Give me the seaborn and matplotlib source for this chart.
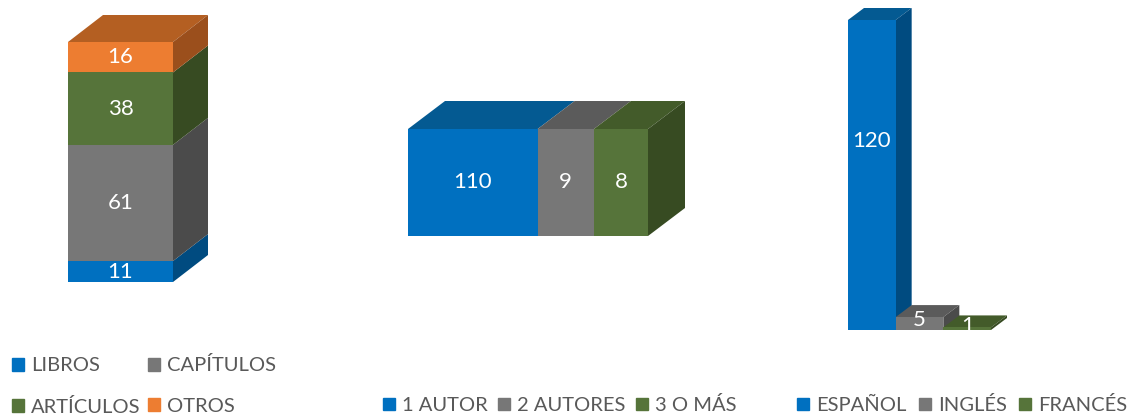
import numpy as np
import seaborn as sns
import matplotlib.pyplot as plt
from matplotlib.patches import Polygon, Patch
from matplotlib.transforms import IdentityTransform

# datos
tipos = ["LIBROS", "CAPÍTULOS", "ARTÍCULOS", "OTROS"]
tipos_val = [11, 61, 38, 16]
autores = ["1 AUTOR", "2 AUTORES", "3 O MÁS"]
autores_val = [110, 9, 8]
idiomas = ["ESPAÑOL", "INGLÉS", "FRANCÉS"]
idiomas_val = [120, 5, 1]

# colores: frente, tapa, lado
blue = ("#0070C0", "#045A92", "#004B80")
grey = ("#777777", "#5B5B5B", "#4B4B4B")
green = ("#56743A", "#435B2A", "#374B22")
orange = ("#ED7D31", "#B45F22", "#9B4F1C")

sns.set_style("white")
plt.rcParams["font.family"] = ["Lato", "DejaVu Sans"]

W, H = 1129, 418
fig = plt.figure(figsize=(W / 100, H / 100), dpi=100)


def rect(l, t, r, b):
    return [l / W, 1 - b / H, (r - l) / W, (b - t) / H]


def faces(ax, x0, y0, x1, y1, dx, dy, cols, top=True, side=True, z=1):
    (a, b), (c, d) = ax.transData.transform([(x0, y0), (x1, y1)])
    l, r = min(a, c), max(a, c)
    lo, hi = min(b, d), max(b, d)
    if top:
        pts = [(l, hi), (r, hi), (r + dx, hi + dy), (l + dx, hi + dy)]
        ax.add_patch(Polygon(pts, closed=True, facecolor=cols[1], edgecolor="none",
                             transform=IdentityTransform(), clip_on=False, zorder=z))
    if side:
        pts = [(r, lo), (r, hi), (r + dx, hi + dy), (r + dx, lo + dy)]
        ax.add_patch(Polygon(pts, closed=True, facecolor=cols[2], edgecolor="none",
                             transform=IdentityTransform(), clip_on=False, zorder=z))


label_kw = dict(ha="center", va="center", color="white", fontsize=16)
bar_kw = dict(saturation=1, width=1, linewidth=0, edgecolor="none")

# panel 1: tipo de publicación (apilado vertical)
ax1 = fig.add_axes(rect(68, 42, 173, 282))
c1 = [blue, grey, green, orange]
cum1 = np.cumsum(tipos_val)
for i in reversed(range(len(tipos))):
    sns.barplot(x=["PUB"], y=[cum1[i]], color=c1[i][0], ax=ax1, zorder=2, **bar_kw)
ax1.set_xlim(-0.5, 0.5)
ax1.set_ylim(0, cum1[-1])
ax1.axis("off")
for i in range(len(tipos)):
    y0 = cum1[i] - tipos_val[i]
    faces(ax1, -0.5, y0, 0.5, cum1[i], 35, 27, c1[i],
          top=(i == len(tipos) - 1), side=True)
    ax1.text(0, y0 + tipos_val[i] / 2, str(tipos_val[i]), zorder=5, **label_kw)

# panel 2: número de autores (apilado horizontal)
ax2 = fig.add_axes(rect(408, 129, 648, 236))
c2 = [blue, grey, green]
disp2 = np.cbrt(autores_val)
cum2 = np.cumsum(disp2)
for i in reversed(range(len(autores))):
    sns.barplot(x=[cum2[i]], y=["AUT"], orient="h", color=c2[i][0], ax=ax2,
                zorder=2, **bar_kw)
ax2.set_xlim(0, cum2[-1])
ax2.set_ylim(0.5, -0.5)
ax2.axis("off")
for i in range(len(autores)):
    x0 = cum2[i] - disp2[i]
    faces(ax2, x0, -0.5, cum2[i], 0.5, 37, 28, c2[i],
          top=True, side=(i == len(autores) - 1))
    ax2.text(x0 + disp2[i] / 2, 0, str(autores_val[i]), zorder=5, **label_kw)

# panel 3: idioma (columnas)
ax3 = fig.add_axes(rect(848, 20, 991, 330))
c3 = [blue, grey, green]
sns.barplot(x=idiomas, y=idiomas_val, hue=idiomas, palette=[c[0] for c in c3],
            legend=False, ax=ax3, **bar_kw)
ax3.set_xlim(-0.5, 2.5)
ax3.set_ylim(0, max(idiomas_val))
ax3.axis("off")
for i, p in enumerate(ax3.patches):
    p.set_zorder(4 + 2 * i)
    faces(ax3, p.get_x(), 0, p.get_x() + p.get_width(), p.get_height(), 16, 12,
          c3[i], z=3 + 2 * i)
    ax3.text(p.get_x() + p.get_width() / 2, p.get_height() * 0.6 + 1,
             str(idiomas_val[i]), zorder=20, clip_on=True, **label_kw)

# leyendas
leg_kw = dict(frameon=False, fontsize=14.5, handlelength=0.6, handleheight=0.6,
              handletextpad=0.35, borderpad=0, borderaxespad=0, labelcolor="#595959")

h1 = [Patch(color=c[0]) for c in c1]
order = [0, 2, 1, 3]
fig.legend([h1[k] for k in order], [tipos[k] for k in order], ncol=2,
           loc="center left", bbox_to_anchor=(12 / W, 1 - 386 / H),
           labelspacing=1.15, columnspacing=0.35, **leg_kw)
fig.legend([Patch(color=c[0]) for c in c2], autores, ncol=3,
           loc="center left", bbox_to_anchor=(383 / W, 1 - 405 / H),
           columnspacing=0.5, **leg_kw)
fig.legend([Patch(color=c[0]) for c in c3], idiomas, ncol=3,
           loc="center left", bbox_to_anchor=(797 / W, 1 - 405 / H),
           columnspacing=0.6, **leg_kw)

fig.savefig("out.png", dpi=100)
